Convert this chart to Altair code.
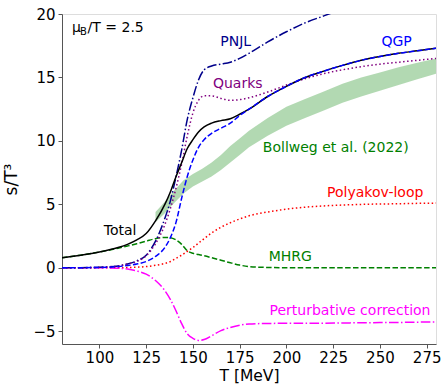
import altair as alt
import pandas as pd

# ---- data ----
T = [80, 90, 100, 110, 115, 120, 125, 130, 135, 138, 141, 144, 147, 150, 153, 156,
     160, 165, 170, 175, 180, 190, 200, 210, 220, 230, 240, 250, 260, 270, 280]

total = [0.8, 1.0, 1.25, 1.6, 1.85, 2.2, 2.7, 3.7, 5.0, 6.0, 7.2, 8.3, 9.4, 10.1, 10.7, 11.1,
         11.4, 11.6, 11.75, 12.1, 12.5, 13.5, 14.3, 15.0, 15.5, 15.95, 16.35, 16.65, 16.9, 17.1, 17.3]

qgp = [0.0, 0.01, 0.03, 0.1, 0.18, 0.3, 0.5, 0.9, 1.6, 2.4, 3.6, 5.5, 7.2, 8.5, 9.5, 10.1,
       10.6, 11.0, 11.4, 12.0, 12.5, 13.5, 14.3, 15.0, 15.5, 15.95, 16.35, 16.65, 16.9, 17.1, 17.3]

pnjl = [0.0, 0.01, 0.05, 0.15, 0.3, 0.55, 1.0, 2.1, 3.9, 5.3, 7.2, 9.3, 11.7, 13.4, 14.8, 15.6,
        15.9, 16.05, 16.2, 16.5, 16.9, 17.8, 18.6, 19.3, 19.85, 20.4, None, None, None, None, None]

quarks = [0.0, 0.01, 0.05, 0.15, 0.3, 0.5, 0.95, 1.9, 3.4, 4.7, 6.3, 8.2, 10.4, 12.2, 13.2, 13.55,
          13.55, 13.35, 13.2, 13.25, 13.4, 13.85, 14.4, 14.9, 15.3, 15.6, 15.85, 16.05, 16.2, 16.35, 16.5]

mhrg = [0.8, 1.0, 1.25, 1.55, 1.72, 1.9, 2.1, 2.3, 2.4, 2.38, 2.2, 1.85, 1.35, 1.15, 1.05, 0.95,
        0.8, 0.6, 0.4, 0.22, 0.1, 0.03, 0.01, 0.0, 0.0, 0.0, 0.0, 0.0, 0.0, 0.0, 0.0]

polyakov = [0.0, 0.0, 0.0, 0.01, 0.02, 0.05, 0.1, 0.2, 0.35, 0.5, 0.75, 1.0, 1.3, 1.6, 1.95, 2.3,
            2.75, 3.2, 3.55, 3.85, 4.1, 4.4, 4.62, 4.78, 4.88, 4.95, 5.0, 5.03, 5.05, 5.08, 5.1]

pert = [0.0, 0.0, 0.0, -0.03, -0.1, -0.25, -0.5, -1.0, -1.8, -2.5, -3.4, -4.4, -5.2, -5.55, -5.72, -5.65,
        -5.35, -4.95, -4.7, -4.52, -4.43, -4.38, -4.37, -4.36, -4.36, -4.34, -4.33, -4.31, -4.3, -4.28, -4.26]

T_band = [130, 135, 140, 145, 150, 155, 160, 165, 170, 175, 180, 190, 200, 210, 220, 230, 240, 250, 260, 270, 280]
band_lo = [3.6, 4.3, 5.1, 5.85, 6.4, 6.8, 7.2, 7.7, 8.3, 8.9, 9.5, 10.4, 11.2, 11.8, 12.4, 13.0, 13.5, 13.95, 14.4, 14.85, 15.3]
band_hi = [4.4, 5.2, 6.1, 6.9, 7.4, 7.8, 8.3, 8.9, 9.6, 10.2, 10.8, 11.8, 12.7, 13.3, 13.9, 14.5, 15.0, 15.4, 15.8, 16.15, 16.5]

label_text = ["PNJL", "QGP", "Quarks", "Bollweg et al. (2022)", "Polyakov-loop", "MHRG",
              "Perturbative correction", "Total"]
label_T = [172.9, 258.9, 174.0, 226.4, 247.5, 202.1, 234.0, 111.1]
label_v = [17.8, 17.8, 14.5, 9.42, 5.87, 0.87, -3.39, 2.92]
label_color = ["darkblue", "blue", "purple", "green", "red", "green", "magenta", "black"]

df = pd.DataFrame({"T": T, "total": total, "qgp": qgp, "pnjl": pnjl, "quarks": quarks,
                   "mhrg": mhrg, "polyakov": polyakov, "pert": pert})
band_df = pd.DataFrame({"T": T_band, "lo": band_lo, "hi": band_hi})
lab_df = pd.DataFrame({"T": label_T, "v": label_v, "text": label_text, "color": label_color})

FONT = "DejaVu Sans"
xscale = alt.Scale(domain=[80, 280], nice=False, zero=False)
yscale = alt.Scale(domain=[-6, 20], nice=False, zero=False)
xaxis = alt.Axis(values=[100, 125, 150, 175, 200, 225, 250, 275], title="T [MeV]", grid=False,
                 titleFontSize=15.5, titleFont=FONT, titleFontWeight="normal", titleColor="black",
                 labelFontSize=15, labelFont=FONT, labelColor="black", tickSize=4, labelPadding=2,
                 titlePadding=3, domainColor="#555", tickColor="#555", labelFlush=False)
yaxis = alt.Axis(values=[-5, 0, 5, 10, 15, 20], title="s/T³", grid=False,
                 titleFontSize=17, titleFont=FONT, titleFontWeight="normal", titleColor="black",
                 labelFontSize=15, labelFont=FONT, labelColor="black", tickSize=4, labelPadding=3,
                 titlePadding=12, domainColor="#555", tickColor="#555", labelFlush=False)

X = alt.X("T:Q", scale=xscale, axis=xaxis)

band = alt.Chart(band_df).mark_area(color="green", opacity=0.3, clip=True).encode(
    x=X, y=alt.Y("lo:Q", scale=yscale, axis=yaxis), y2="hi:Q")


def line(col, color, dash=None):
    kw = dict(color=color, strokeWidth=1.5, interpolate="monotone", clip=True)
    if dash:
        kw["strokeDash"] = dash
    return alt.Chart(df).mark_line(**kw).encode(
        x=X, y=alt.Y(f"{col}:Q", scale=yscale, axis=yaxis))


DASH = [5.5, 2.4]
DOT = [1.5, 2.5]
DASHDOT = [9.6, 2.4, 1.5, 2.4]

layers = [
    band,
    line("mhrg", "green", DASH),
    line("polyakov", "red", DOT),
    line("pert", "magenta", DASHDOT),
    line("pnjl", "darkblue", DASHDOT),
    line("quarks", "purple", DOT),
    line("total", "black"),
    line("qgp", "blue", DASH),
]

labels = alt.Chart(lab_df).mark_text(fontSize=14, font=FONT, align="center", baseline="middle").encode(
    x=X, y=alt.Y("v:Q", scale=yscale, axis=yaxis), text="text:N",
    color=alt.Color("color:N", scale=None))

mu_df = pd.DataFrame({"T": [85.4], "v": [18.9]})
mu1 = alt.Chart(mu_df).mark_text(text="μ", fontSize=14, font=FONT, align="left", baseline="middle",
                                  color="black").encode(x=X, y=alt.Y("v:Q", scale=yscale, axis=yaxis))
mu2 = alt.Chart(mu_df).mark_text(text="B", fontSize=10, font=FONT, align="left", baseline="middle",
                                  color="black", dx=8, dy=4).encode(x=X, y=alt.Y("v:Q", scale=yscale, axis=yaxis))
mu3 = alt.Chart(mu_df).mark_text(text="/T = 2.5", fontSize=14, font=FONT, align="left", baseline="middle",
                                  color="black", dx=15.5).encode(x=X, y=alt.Y("v:Q", scale=yscale, axis=yaxis))

chart = alt.layer(*layers, labels, mu1, mu2, mu3).properties(
    width=374, height=330,
    autosize=alt.AutoSizeParams(type="none"),
    padding={"left": 62, "top": 14, "right": 8, "bottom": 41},
).configure_view(stroke="#555", strokeWidth=1.2).configure(background="white")

chart.save("out.html", embed_options={"renderer": "svg", "actions": False})
